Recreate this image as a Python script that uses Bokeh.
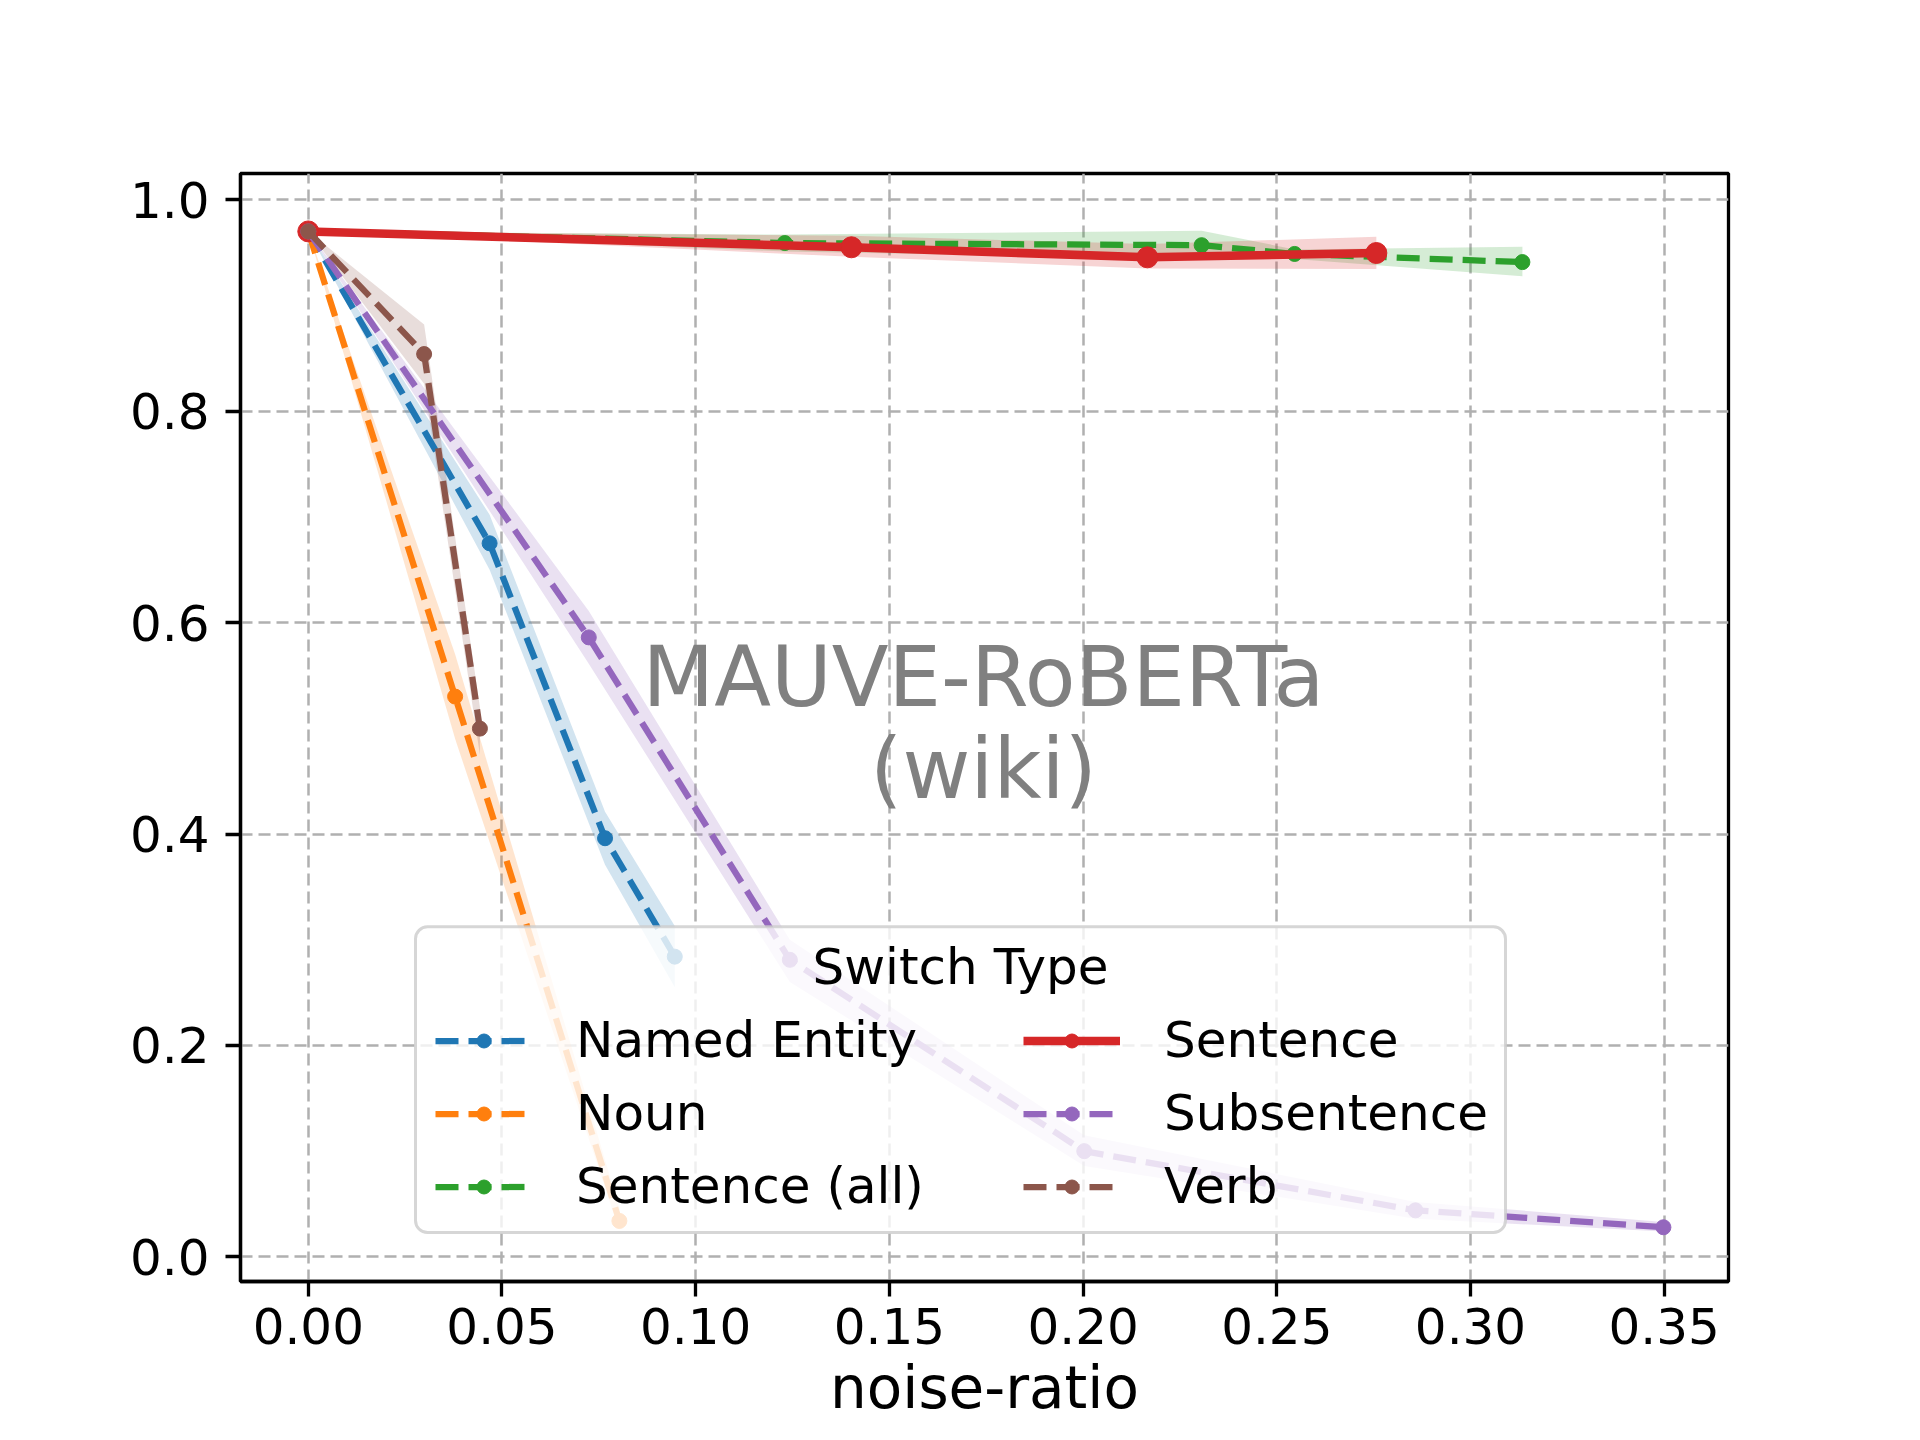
from bokeh.plotting import figure
from bokeh.models import Range1d, FixedTicker, Legend, LegendItem, Label, NumeralTickFormatter, BoxAnnotation
from bokeh.embed import file_html
from bokeh.resources import INLINE

# ---- data ----
series_names = ["Named Entity", "Noun", "Sentence (all)", "Sentence", "Subsentence", "Verb"]
series_colors = ["#1f77b4", "#ff7f0e", "#2ca02c", "#d62728", "#9467bd", "#8c564b"]

named_entity_x = [0.0, 0.0468, 0.0766, 0.0946]
named_entity_y = [0.970, 0.675, 0.396, 0.284]
named_entity_lo = [0.970, 0.650, 0.371, 0.255]
named_entity_hi = [0.970, 0.702, 0.421, 0.313]

noun_x = [0.0, 0.0379, 0.0803]
noun_y = [0.970, 0.530, 0.034]
noun_lo = [0.970, 0.490, 0.025]
noun_hi = [0.970, 0.570, 0.046]

sentence_all_x = [0.0, 0.123, 0.2306, 0.2546, 0.3134]
sentence_all_y = [0.970, 0.959, 0.957, 0.9487, 0.941]
sentence_all_lo = [0.970, 0.951, 0.944, 0.944, 0.9275]
sentence_all_hi = [0.970, 0.967, 0.9707, 0.953, 0.9556]

sentence_x = [0.0, 0.1402, 0.2166, 0.2757]
sentence_y = [0.970, 0.955, 0.9455, 0.9496]
sentence_lo = [0.970, 0.946, 0.935, 0.9345]
sentence_hi = [0.970, 0.966, 0.958, 0.965]

subsentence_x = [0.0, 0.0724, 0.1243, 0.2003, 0.2858, 0.3498]
subsentence_y = [0.970, 0.586, 0.281, 0.100, 0.044, 0.028]
subsentence_lo = [0.970, 0.561, 0.260, 0.086, 0.036, 0.024]
subsentence_hi = [0.970, 0.611, 0.300, 0.115, 0.052, 0.033]

verb_x = [0.0, 0.0299, 0.0443]
verb_y = [0.970, 0.854, 0.4997]
verb_lo = [0.970, 0.826, 0.475]
verb_hi = [0.970, 0.882, 0.520]

x_ticks = [0.0, 0.05, 0.10, 0.15, 0.20, 0.25, 0.30, 0.35]
y_ticks = [0.0, 0.2, 0.4, 0.6, 0.8, 1.0]

xs = [named_entity_x, noun_x, sentence_all_x, sentence_x, subsentence_x, verb_x]
ys = [named_entity_y, noun_y, sentence_all_y, sentence_y, subsentence_y, verb_y]
los = [named_entity_lo, noun_lo, sentence_all_lo, sentence_lo, subsentence_lo, verb_lo]
his = [named_entity_hi, noun_hi, sentence_all_hi, sentence_hi, subsentence_hi, verb_hi]

FONT = "DejaVu Sans"

W, H = 1904, 1424
FRAME_L, FRAME_R, FRAME_T, FRAME_B = 240, 1728, 173, 1282

x_min, x_max = -0.0175, 0.3666
y_min, y_max = -0.0233, 1.0248


def fx(px):
    return x_min + (px - FRAME_L) / (FRAME_R - FRAME_L) * (x_max - x_min)


def fy(py):
    return y_min + (FRAME_B - py) / (FRAME_B - FRAME_T) * (y_max - y_min)


p = figure(width=W, height=H, output_backend="svg", toolbar_location=None,
           x_range=Range1d(x_min, x_max), y_range=Range1d(y_min, y_max),
           min_border_left=FRAME_L, min_border_right=W - FRAME_R,
           min_border_top=FRAME_T, min_border_bottom=H - FRAME_B)

p.background_fill_color = "white"
p.border_fill_color = "white"
p.outline_line_color = "black"
p.outline_line_width = 3.3

for ax in (p.xaxis[0], p.yaxis[0]):
    ax.axis_line_width = 3.3
    ax.axis_line_color = "black"
    ax.major_tick_line_width = 3.3
    ax.major_tick_out = 15
    ax.major_tick_in = 0
    ax.minor_tick_line_color = None
    ax.major_label_text_font = FONT
    ax.major_label_text_font_size = "50px"
    ax.major_label_text_color = "black"

p.xaxis.ticker = FixedTicker(ticks=x_ticks)
p.yaxis.ticker = FixedTicker(ticks=y_ticks)
p.xaxis.formatter = NumeralTickFormatter(format="0.00")
p.yaxis.formatter = NumeralTickFormatter(format="0.0")
p.xaxis.major_label_standoff = 11
p.yaxis.major_label_standoff = 16
p.xaxis.axis_label = "noise-ratio"
p.xaxis.axis_label_text_font = FONT
p.xaxis.axis_label_text_font_size = "58px"
p.xaxis.axis_label_text_font_style = "normal"
p.xaxis.axis_label_text_color = "black"
p.xaxis.axis_label_standoff = 7

for g in (p.xgrid[0], p.ygrid[0]):
    g.grid_line_color = "#b0b0b0"
    g.grid_line_width = 2.5
    g.grid_line_dash = "12 6"

# confidence bands first (below every line)
for x, lo, hi, c in zip(xs, los, his, series_colors):
    p.varea(x=x, y1=lo, y2=hi, fill_color=c, fill_alpha=0.2)

items = []
for name, x, y, c in zip(series_names, xs, ys, series_colors):
    if name == "Sentence":
        ln = p.line(x, y, line_color=c, line_width=8.5)
        sc = p.scatter(x, y, size=21, fill_color=c, line_color=c)
    else:
        ln = p.line(x, y, line_color=c, line_width=6.25, line_dash="23 10")
        sc = p.scatter(x, y, size=15, fill_color=c, line_color=c)
    items.append(LegendItem(label=name, renderers=[ln, sc]))

# title text of the chart, centred in the axes
p.add_layout(Label(x=fx(983), y=fy(677), text="MAUVE-RoBERTa",
                   text_align="center", text_baseline="middle", text_font=FONT,
                   text_font_size="83px", text_color="#808080"))
p.add_layout(Label(x=fx(983), y=fy(770), text="(wiki)",
                   text_align="center", text_baseline="middle", text_font=FONT,
                   text_font_size="83px", text_color="#808080"))

# legend frame
p.add_layout(BoxAnnotation(left=fx(415), right=fx(1505), top=fy(927), bottom=fy(1233),
                           fill_color="white", fill_alpha=0.8,
                           line_color="#cccccc", line_alpha=0.8, line_width=3,
                           border_radius=12))
p.add_layout(Label(x=fx(960), y=fy(967), text="Switch Type",
                   text_align="center", text_baseline="middle", text_font=FONT,
                   text_font_size="50px", text_color="black"))

legend_style = dict(label_text_font=FONT, label_text_font_size="50px", label_text_color="black",
                    glyph_width=97, glyph_height=35, label_standoff=44, spacing=15, padding=0,
                    background_fill_alpha=0, border_line_color=None, margin=0)
legend_left = Legend(items=items[:3], location=(435 - FRAME_L, FRAME_B - 1216), **legend_style)
legend_right = Legend(items=items[3:], location=(1023 - FRAME_L, FRAME_B - 1216), **legend_style)
p.add_layout(legend_left, "center")
p.add_layout(legend_right, "center")

open("out.html", "w").write(file_html(p, INLINE))
